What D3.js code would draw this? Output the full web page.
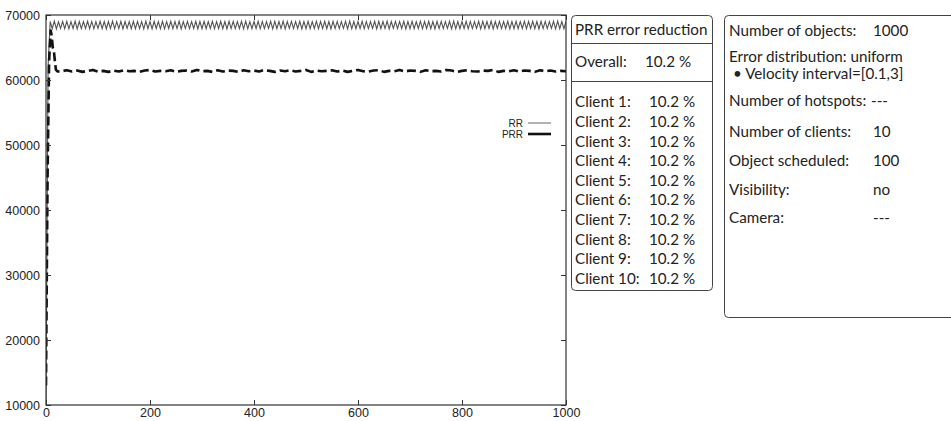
<!DOCTYPE html>
<html><head><meta charset="utf-8">
<script src="https://cdn.jsdelivr.net/npm/d3@7"></script>
<style>
body{margin:0;background:#fff;}
svg{display:block;}
.ax text{font-family:"Liberation Sans",Arial,sans-serif;font-size:12.5px;fill:#222;}
.box text{font-family:Lato,"Noto Sans",sans-serif;font-size:15.2px;fill:#222;}
</style></head>
<body>
<svg id="c" width="951" height="421"></svg>
<script>
// ---- data ----
const xTicks = [0,200,400,600,800,1000];
const yTicks = [10000,20000,30000,40000,50000,60000,70000];
const rrStep = 4; // RR sampled every 4 time units, starting at 0
const rrValues = [
10000,62000,69000,67900,69050,67850,68950,67950,69000,67900,
69020,67880,68980,67920,69050,67860,69000,67900,68970,67940,
69040,67890,69010,67870,68960,67930,69030,67900,68990,67860,
69000,67920,69050,67880,68980,67910,69020,67850,69000,67930,
68970,67900,69040,67890,69010,67920,68980,67870,69050,67900,
69000,67860,69020,67930,68990,67900,69040,67880,68970,67920,
69030,67890,69000,67910,69060,67870,68980,67940,69010,67900,
68990,67920,69040,67860,69000,67900,69020,67890,68980,67930,
69050,67880,68970,67920,69030,67900,69000,67860,69040,67910,
69010,67900,68990,67930,69020,67870,69050,67900,68980,67890,
69000,67920,69040,67880,69010,67900,68970,67930,69030,67860,
69020,67890,69000,67910,69050,67870,68990,67940,69010,67900,
68980,67920,69040,67860,69000,67900,69020,67890,68970,67930,
69050,67880,68990,67920,69030,67900,69000,67860,69040,67910,
69010,67900,68980,67930,69020,67870,69050,67900,68990,67890,
69000,67920,69040,67880,69010,67900,68970,67930,69030,67860,
69020,67890,69000,67910,69050,67870,68990,67940,69010,67900,
68980,67920,69040,67860,69000,67900,69020,67890,68970,67930,
69050,67880,68990,67920,69030,67900,69000,67860,69040,67910,
69010,67900,68980,67930,69020,67870,69050,67900,68990,67890,
69000,67920,69040,67880,69010,67900,68970,67930,69030,67860,
69020,67890,69000,67910,69050,67870,68990,67940,69010,67900,
68980,67920,69040,67860,69000,67900,69020,67890,68970,67930,
69050,67880,68990,67920,69030,67900,69000,67860,69040,67910,
69010,67900,68980,67930,69020,67870,69050,67900,68990,67890,
69000
];
const prrEarlyX = [0,3,6,9,11,13,15,17,19,22];
const prrEarlyY = [13000,45000,63000,67600,66800,65000,64600,63000,61600,61300];
const prrStep = 10; // PRR sampled every 10 units from 30
const prrValues = [
61350,61500,61300,61450,61250,61400,61550,61300,61400,61250,
61450,61300,61500,61350,61400,61250,61450,61550,61300,61400,
61350,61500,61250,61400,61450,61300,61550,61350,61400,61250,
61500,61300,61450,61400,61250,61500,61350,61450,61300,61550,
61400,61250,61450,61350,61500,61300,61400,61550,61250,61450,
61350,61400,61500,61300,61450,61250,61400,61550,61350,61300,
61450,61500,61250,61400,61350,61550,61300,61450,61400,61250,
61500,61350,61400,61300,61550,61450,61250,61400,61500,61350,
61300,61450,61400,61550,61250,61400,61350,61500,61300,61450,
61400,61250,61500,61350,61450,61300,61400,61350
];
const legendNames = ["RR","PRR"];
const boxTitle = "PRR error reduction";
const overallLabel = "Overall:";
const overallValue = "10.2 %";
const clientLabels = ["Client 1:","Client 2:","Client 3:","Client 4:","Client 5:","Client 6:","Client 7:","Client 8:","Client 9:","Client 10:"];
const clientValues = ["10.2 %","10.2 %","10.2 %","10.2 %","10.2 %","10.2 %","10.2 %","10.2 %","10.2 %","10.2 %"];
const infoLabels = ["Number of objects:","Error distribution: uniform","\u2022 Velocity interval=[0.1,3]","Number of hotspots:","Number of clients:","Object scheduled:","Visibility:","Camera:"];
const infoValues = ["1000","","","---","10","100","no","---"];

// ---- chart ----
const svg = d3.select("#c");
const L=46,R=566,T=15,B=405;
const x = d3.scaleLinear().domain([0,1000]).range([L,R]);
const y = d3.scaleLinear().domain([10000,70000]).range([B,T]);

const rrData = rrValues.map((v,i)=>[i*rrStep,v]);
const prrData = prrEarlyX.map((v,i)=>[v,prrEarlyY[i]]).concat(prrValues.map((v,i)=>[30+i*prrStep,v]));

const line = d3.line().x(d=>x(d[0])).y(d=>y(d[1]));
svg.append("clipPath").attr("id","clp").append("rect").attr("x",L).attr("y",T).attr("width",R-L).attr("height",B-T);

svg.append("path").datum(rrData).attr("d",line).attr("fill","none").attr("stroke","#555").attr("stroke-width",1.1).attr("clip-path","url(#clp)");
svg.append("path").datum(prrData).attr("d",line).attr("fill","none").attr("stroke","#111").attr("stroke-width",2.6).attr("stroke-dasharray","9,4").attr("stroke-linejoin","round").attr("clip-path","url(#clp)");

// axes
svg.append("g").attr("class","ax").attr("transform",`translate(0,${B})`).call(d3.axisBottom(x).tickValues(xTicks).tickSize(-5).tickPadding(3).tickFormat(d3.format("d")));
svg.append("g").attr("class","ax").attr("transform",`translate(${L},0)`).call(d3.axisLeft(y).tickValues(yTicks).tickSize(-5).tickPadding(6).tickFormat(d3.format("d")));
svg.append("g").attr("class","ax").attr("transform",`translate(0,${T})`).call(d3.axisTop(x).tickValues(xTicks).tickSize(-5).tickFormat(""));
svg.append("g").attr("class","ax").attr("transform",`translate(${R},0)`).call(d3.axisRight(y).tickValues(yTicks).tickSize(-5).tickFormat(""));
svg.selectAll(".ax .domain").attr("stroke","none");
svg.selectAll(".ax line").attr("stroke","#333");
svg.append("rect").attr("x",L).attr("y",T).attr("width",R-L).attr("height",B-T).attr("fill","none").attr("stroke","#333").attr("stroke-width",1.2);

// legend
const lg = svg.append("g").attr("class","ax");
legendNames.forEach((n,i)=>{
  const yy = 123 + i*11;
  lg.append("text").attr("x",523).attr("y",yy).attr("dy","0.35em").attr("text-anchor","end").style("font-size","10px").text(n);
  lg.append("line").attr("x1",528).attr("x2",551).attr("y1",yy).attr("y2",yy)
    .attr("stroke", i===0?"#666":"#111").attr("stroke-width", i===0?1:2.6);
});

// box 1
const b1 = svg.append("g").attr("class","box");
b1.append("rect").attr("x",571.5).attr("y",15.5).attr("width",141).attr("height",275).attr("rx",4).attr("fill","none").attr("stroke","#444");
b1.append("line").attr("x1",571.5).attr("x2",712.5).attr("y1",43.5).attr("y2",43.5).attr("stroke","#444");
b1.append("line").attr("x1",571.5).attr("x2",712.5).attr("y1",81.5).attr("y2",81.5).attr("stroke","#444");
b1.append("text").attr("x",575).attr("y",30).attr("dy","0.35em").text(boxTitle);
b1.append("text").attr("x",575).attr("y",62).attr("dy","0.35em").text(overallLabel);
b1.append("text").attr("x",645).attr("y",62).attr("dy","0.35em").text(overallValue);
clientLabels.forEach((c,i)=>{
  const yy = 102 + i*19.6;
  b1.append("text").attr("x",575).attr("y",yy).attr("dy","0.35em").text(c);
  b1.append("text").attr("x",649).attr("y",yy).attr("dy","0.35em").text(clientValues[i]);
});

// box 2
const b2 = svg.append("g").attr("class","box");
b2.append("rect").attr("x",724.5).attr("y",15.5).attr("width",240).attr("height",302).attr("rx",4).attr("fill","none").attr("stroke","#444");
const infoY = [31,57,74,101,132,161,190,218];
const infoVX = [873,0,0,871,873,873,873,873];
infoLabels.forEach((t,i)=>{
  b2.append("text").attr("x", i===2?733:729).attr("y",infoY[i]).attr("dy","0.35em").text(t);
  if(infoValues[i]) b2.append("text").attr("x",infoVX[i]).attr("y",infoY[i]).attr("dy","0.35em").text(infoValues[i]);
});
</script>
</body></html>
